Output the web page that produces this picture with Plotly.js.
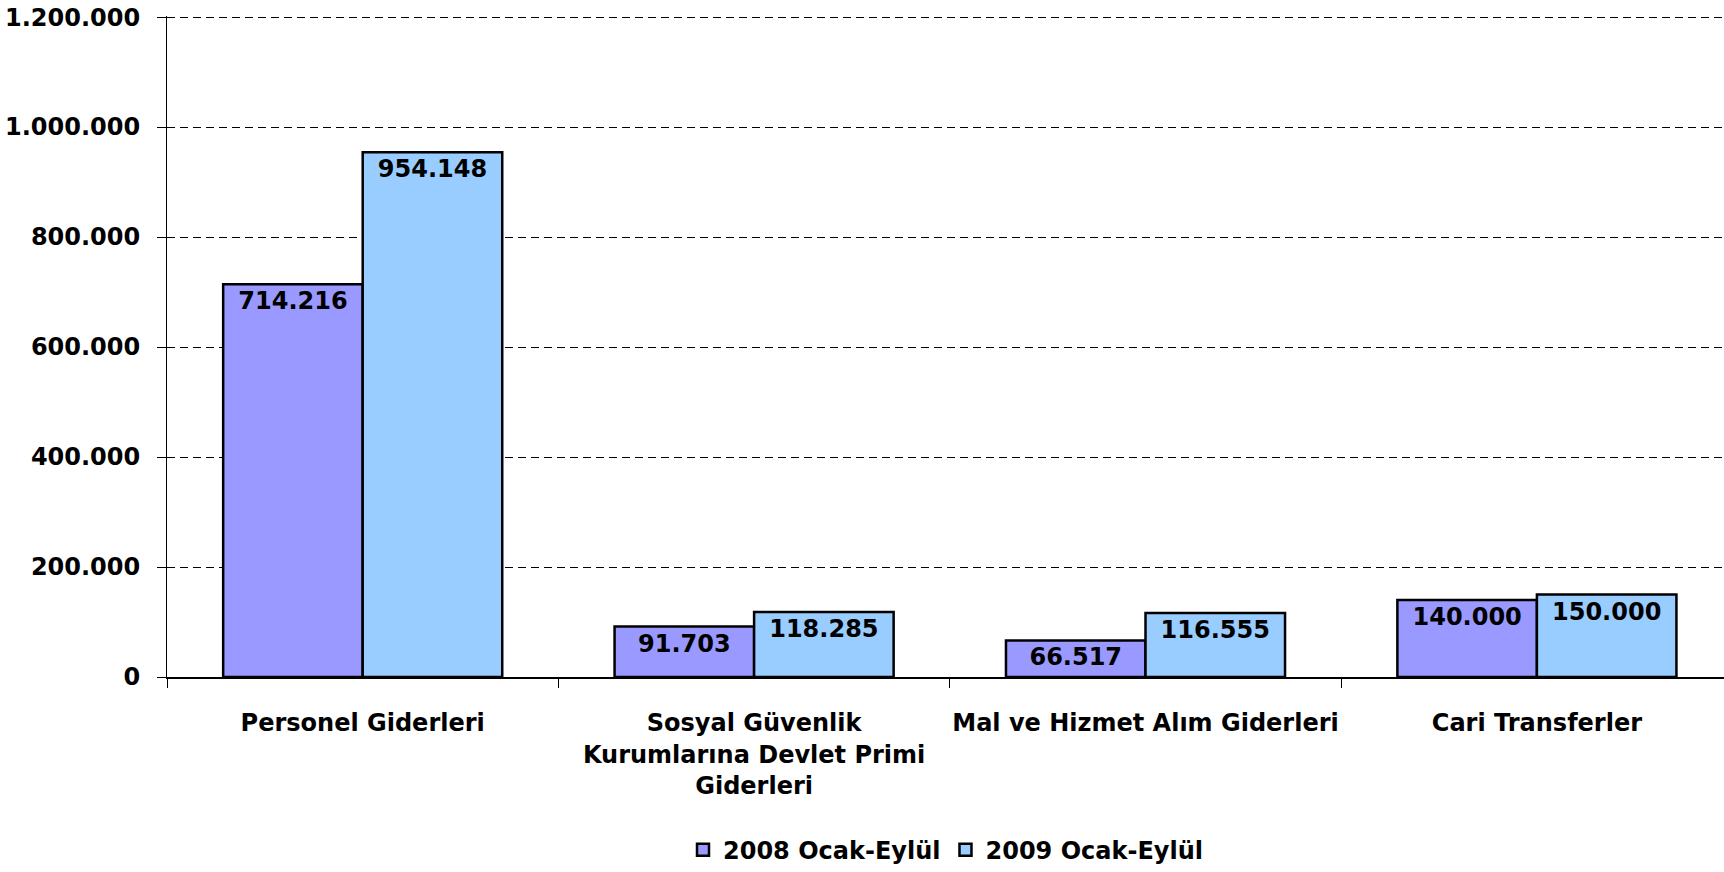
<!DOCTYPE html>
<html>
<head>
<meta charset="utf-8">
<script src="https://cdn.plot.ly/plotly-3.0.1.min.js"></script>
<style>html,body{margin:0;padding:0;background:#fff;}#chart{width:1724px;height:872px;}</style>
</head>
<body>
<div id="chart"></div>
<script>
const categories = ["Personel Giderleri", "Sosyal Güvenlik<br>Kurumlarına Devlet Primi<br>Giderleri", "Mal ve Hizmet Alım Giderleri", "Cari Transferler"];
const series2008Name = "2008 Ocak-Eylül";
const series2009Name = "2009 Ocak-Eylül";
const values2008 = [714216, 91703, 66517, 140000];
const values2009 = [954148, 118285, 116555, 150000];
const yTickValues = [0, 200000, 400000, 600000, 800000, 1000000, 1200000];

const FONT = "DejaVu Sans, Verdana, sans-serif";
const mk = (name, vals, color) => ({
  type: "bar", name: name, x: categories, y: vals,
  marker: {color: color, line: {color: "#000", width: 2.5}},
  texttemplate: "%{y:,.0f}", textposition: "inside", insidetextanchor: "end",
  constraintext: "none", textangle: 0,
  textfont: {family: FONT, size: 24, weight: 700, color: "#000"},
  insidetextfont: {family: FONT, size: 24, weight: 700, color: "#000"},
  hoverinfo: "none"
});
const data = [mk(series2008Name, values2008, "#9999FF"), mk(series2009Name, values2009, "#99CCFF")];
const layout = {
  width: 1724, height: 872,
  margin: {l: 167, r: 0, t: 16, b: 195, autoexpand: false},
  paper_bgcolor: "#fff", plot_bgcolor: "#fff",
  separators: ",.",
  font: {family: FONT, size: 24, weight: 700, color: "#000"},
  barmode: "group", bargap: 0.287, bargroupgap: 0,
  showlegend: true,
  legend: {orientation: "h", x: 0.5, xanchor: "center", yref: "container", y: 0.025, yanchor: "middle",
           font: {family: FONT, size: 24, weight: 700, color: "#000"}, itemwidth: 30, traceorder: "normal"},
  xaxis: {type: "category", range: [-0.5, 3.478], showline: true, linecolor: "#000", linewidth: 1.5,
          ticks: "outside", ticklen: 9, tickcolor: "#000", tickwidth: 1, tickson: "boundaries",
          showgrid: false, zeroline: false, ticklabelstandoff: 24, tickangle: 0, automargin: false,
          tickfont: {family: FONT, size: 24, weight: 700, color: "#000"}},
  yaxis: {range: [0, 1202000], tickvals: yTickValues, tickformat: ",.0f", showline: true, linecolor: "#000", linewidth: 1,
          ticks: "outside", ticklen: 9, tickcolor: "#000", showgrid: true, gridcolor: "#000", gridwidth: 1,
          griddash: "8px,5px", zeroline: false, ticklabelstandoff: 12, automargin: false,
          tickfont: {family: FONT, size: 24, weight: 700, color: "#000"}}
};
Plotly.newPlot("chart", data, layout, {displayModeBar: false, staticPlot: true});
</script>
</body>
</html>
